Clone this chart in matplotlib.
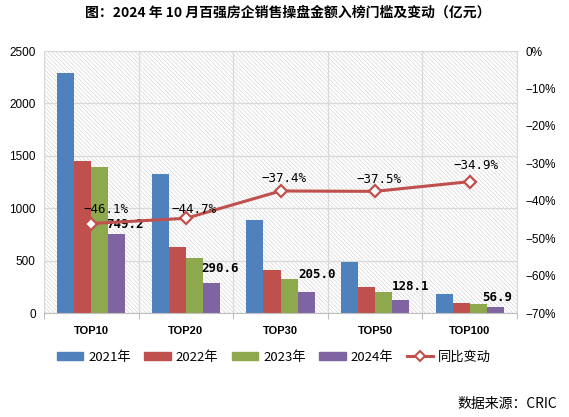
import matplotlib
matplotlib.use("Agg")
import matplotlib.pyplot as plt
from matplotlib.patches import Rectangle
from matplotlib.lines import Line2D
from matplotlib.patches import Patch
import numpy as np

categories = ["TOP10", "TOP20", "TOP30", "TOP50", "TOP100"]
years = ["2021年", "2022年", "2023年", "2024年"]
v2021 = [2290, 1326, 884, 487, 180]
v2022 = [1450, 630, 410, 248, 95]
v2023 = [1390, 525, 327, 204, 87]
v2024 = [749.2, 290.6, 205.0, 128.1, 56.9]
yoy = [-46.1, -44.7, -37.4, -37.5, -34.9]
line_name = "同比变动"

colors = ["#4F81BD", "#C0504D", "#8EA84D", "#8064A2"]
red = "#C0504D"
grid_c = "#D9D9D9"
cjk = ["Noto Sans CJK SC", "DejaVu Sans"]
mono = ["DejaVu Sans Mono"]

# label nudges in pixels (dx, dy)
pct_off = [(15, 14), (8, 9), (3, 12), (4, 12), (6, 16)]
val_off = [(8, 10), (9, 14), (11, 17), (10, 13), (2, 10)]

plt.rcParams["hatch.linewidth"] = 0.5

fig = plt.figure(figsize=(5.69, 4.17), dpi=100)
ax = fig.add_axes([44 / 569, 1 - 313 / 417, 473 / 569, 262 / 417])

# hatched plot background
ax.add_patch(Rectangle((0, 0), 1, 1, transform=ax.transAxes, facecolor="white",
                       edgecolor="#D6D6D6", hatch="\\" * 8, lw=0, zorder=0))

x = np.arange(len(categories))
w = 0.18
series = [v2021, v2022, v2023, v2024]
for i, vals in enumerate(series):
    ax.bar(x + (i - 1.5) * w, vals, w, color=colors[i], zorder=2)

for i, v in enumerate(v2024):
    ax.annotate(f"{v:.1f}", (x[i] + 1.5 * w, v), xytext=val_off[i],
                textcoords="offset pixels", ha="center", va="center",
                fontsize=9, fontweight="bold", family=mono, zorder=5)

ax.set_xlim(-0.5, len(categories) - 0.5)
ax.set_ylim(0, 2500)
ax.set_yticks(range(0, 2501, 500))
ax.set_xticks(x)
ax.set_xticklabels(categories, fontweight="bold", fontsize=8, family="Liberation Sans")
ax.set_xticks(np.arange(-0.5, len(categories)), minor=True)
ax.tick_params(axis="x", which="major", length=0, pad=9)
ax.tick_params(axis="x", which="minor", length=4, color="#BFBFBF", width=0.8)
ax.tick_params(axis="y", length=0, pad=6, labelsize=8.5)
for lab in ax.get_yticklabels():
    lab.set_family("Liberation Sans")
ax.grid(axis="y", color=grid_c, lw=0.9, zorder=1)
ax.grid(axis="x", which="minor", color=grid_c, lw=0.9, zorder=1)
for s in ["left", "right", "top"]:
    ax.spines[s].set_color(grid_c)
ax.spines["bottom"].set_color("#BFBFBF")

ax2 = ax.twinx()
ax2.plot(x, yoy, color=red, lw=2.2, marker="D", markersize=6,
         markerfacecolor="white", markeredgecolor=red, markeredgewidth=1.6, zorder=4)
ax2.set_ylim(-70, 0)
ax2.set_yticks(range(-70, 1, 10))
ax2.set_yticklabels([f"{t}%".replace("-", "\u2212") for t in range(-70, 1, 10)],
                    fontsize=8.5, family="Liberation Sans")
ax2.tick_params(axis="y", length=0, pad=6)
for s in ax2.spines.values():
    s.set_visible(False)

for i, p in enumerate(yoy):
    ax2.annotate(f"{p:.1f}%".replace("-", "\u2212"), (x[i], p), xytext=pct_off[i],
                 textcoords="offset pixels", ha="center", va="center",
                 fontsize=9, family=mono, zorder=5)

handles = [Patch(color=c) for c in colors]
handles.append(Line2D([], [], color=red, lw=2.2, marker="D", markersize=5,
                      markerfacecolor="white", markeredgecolor=red, markeredgewidth=1.5))
fig.legend(handles, years + [line_name], loc="center", ncol=5,
           bbox_to_anchor=(274 / 569, 1 - 357 / 417), frameon=False,
           prop={"family": cjk, "size": 9.5}, handlelength=2.0, handleheight=0.6,
           handletextpad=0.4, columnspacing=1.0)

fig.text(288 / 569, 1 - 13 / 417, "图：2024 年 10 月百强房企销售操盘金额入榜门槛及变动（亿元）",
         ha="center", va="center", fontsize=10, fontweight="bold", family=cjk)
fig.text(557 / 569, 1 - 404 / 417, "数据来源：CRIC", ha="right", va="center",
         fontsize=10, family=cjk)

fig.savefig("out.png", dpi=100)
